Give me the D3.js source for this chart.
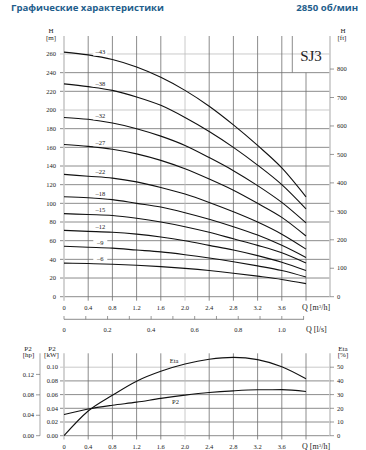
<!DOCTYPE html>
<html>
<head>
<meta charset="utf-8">
<script src="https://cdn.jsdelivr.net/npm/d3@7"></script>
<style>
  body { margin: 0; background: #fff; }
  svg text { font-family: "Liberation Serif", "Times New Roman", serif; fill: #222; }
</style>
</head>
<body>
<svg id="canvas"></svg>
<script>
const flow = [0, 0.4, 0.8, 1.2, 1.6, 2.0, 2.4, 2.8, 3.2, 3.6, 4.0]
const qTicks = [0, 0.4, 0.8, 1.2, 1.6, 2.0, 2.4, 2.8, 3.2, 3.6]
const lsTicks = [0, 0.2, 0.4, 0.6, 0.8, 1.0]
const hTicks = [0, 20, 40, 60, 80, 100, 120, 140, 160, 180, 200, 220, 240, 260]
const ftTicks = [0, 100, 200, 300, 400, 500, 600, 700, 800]

// head curves H [m] per model
const stageNames = ['–43', '–38', '–32', '–27', '–22', '–18', '–15', '–12', '–9', '–6']
const head43 = [262, 259, 254, 246, 235, 221, 204, 184, 162, 138, 107]
const head38 = [228, 225, 221, 214, 205, 192, 177, 160, 141, 120, 94]
const head32 = [192, 190, 186, 180, 172, 162, 149, 135, 119, 101, 79]
const head27 = [163, 161, 158, 153, 146, 137, 126, 114, 100, 85, 65]
const head22 = [131, 129, 127, 123, 117, 110, 101, 91, 80, 67, 51]
const head18 = [107, 106, 104, 100, 96, 90, 83, 75, 66, 55, 42]
const head15 = [89, 88, 87, 84, 80, 75, 69, 62, 55, 47, 36]
const head12 = [71, 70, 69, 67, 64, 60, 55, 50, 44, 37, 28]
const head9 = [54, 53, 52, 50, 48, 45, 41.5, 37.5, 33, 28, 21]
const head6 = [36, 35.5, 34.8, 33.7, 32.2, 30.3, 28, 25.2, 22, 18.5, 14]
const heads = [head43, head38, head32, head27, head22, head18, head15, head12, head9, head6]

// power / efficiency
const kwTicks = [0, 0.02, 0.04, 0.06, 0.08, 0.10]
const hpTicks = [0, 0.04, 0.08, 0.12]
const etaTicks = [0, 10, 20, 30, 40, 50]
const power = [0.031, 0.039, 0.0445, 0.049, 0.0545, 0.0592, 0.063, 0.0655, 0.067, 0.0672, 0.0645]
const eta = [0, 18, 29.5, 39.8, 47, 52.3, 55.8, 57.2, 55.5, 50.3, 41.5]

const width = 366
const height = 450
const gridColor = '#6e6e6e'
const lightGrid = '#bdbdbd'
const axisColor = '#c8c8c8'

let canvas = d3.select('#canvas').attr('width', width).attr('height', height)

// header
canvas.append('text').attr('x', 11).attr('y', 11)
    .style('font-family', '"Open Sans", sans-serif').style('font-weight', 'bold')
    .style('font-size', '9.6px').style('fill', '#1f5e8c')
    .text('Графические характеристики')
canvas.append('text').attr('x', 358).attr('y', 11).attr('text-anchor', 'end')
    .style('font-family', '"Open Sans", sans-serif').style('font-weight', 'bold')
    .style('font-size', '9.6px').style('fill', '#1f5e8c')
    .text('2850 об/мин')

// ---------- head chart ----------
let xScale = d3.scaleLinear().domain([0, 4.0]).range([64, 306])
let yScale = d3.scaleLinear().domain([0, 280]).range([296.7, 35.3])
let ftScale = d3.scaleLinear().domain([0, 280 / 0.3048]).range([296.7, 35.3])
let lsScale = d3.scaleLinear().domain([0, 4.0 / 3.6]).range([64, 306])

let main = canvas.append('g')

main.selectAll('.hgrid').data(hTicks).enter().append('line')
    .attr('x1', 60).attr('x2', 330)
    .attr('y1', d => yScale(d)).attr('y2', d => yScale(d))
    .attr('stroke', d => (d === 260 || d === 200) ? lightGrid : gridColor)
    .attr('stroke-width', 0.8)

main.selectAll('.vgrid').data(qTicks.concat([4.0]).filter(d => d > 0)).enter().append('line')
    .attr('x1', d => xScale(d)).attr('x2', d => xScale(d))
    .attr('y1', d => d === 4.0 ? yScale(240) : 36).attr('y2', 300.7)
    .attr('stroke', d => d === 2.0 ? lightGrid : gridColor)
    .attr('stroke-width', 0.8)

// SJ3 box
main.append('line').attr('x1', 292.3).attr('x2', 292.3).attr('y1', 36).attr('y2', yScale(240))
    .attr('stroke', gridColor).attr('stroke-width', 0.8)
main.append('text').attr('x', 311).attr('y', 60.5).attr('text-anchor', 'middle')
    .style('font-size', '15px').text('SJ3')

// axes lines
main.append('line').attr('x1', 64).attr('x2', 64).attr('y1', 36).attr('y2', 300.7)
    .attr('stroke', axisColor).attr('stroke-width', 1.6)
main.append('line').attr('x1', 330).attr('x2', 330).attr('y1', 36).attr('y2', 296.7)
    .attr('stroke', axisColor).attr('stroke-width', 1.6)

main.selectAll('.hlab').data(hTicks).enter().append('text')
    .attr('x', 56).attr('y', d => yScale(d) + 2.2).attr('text-anchor', 'end')
    .style('font-size', '6.5px').text(d => d)
main.append('text').attr('x', 51).attr('y', 33).attr('text-anchor', 'middle').style('font-size', '7px').text('H')
main.append('text').attr('x', 51).attr('y', 40).attr('text-anchor', 'middle').style('font-size', '7px').text('[m]')

main.selectAll('.ftick').data(ftTicks).enter().append('line')
    .attr('x1', 330).attr('x2', 334)
    .attr('y1', d => ftScale(d)).attr('y2', d => ftScale(d))
    .attr('stroke', gridColor).attr('stroke-width', 0.7)
main.selectAll('.flab').data(ftTicks).enter().append('text')
    .attr('x', 337).attr('y', d => ftScale(d) + 2.2)
    .style('font-size', '6.5px').text(d => d)
main.append('text').attr('x', 343).attr('y', 33).attr('text-anchor', 'middle').style('font-size', '7px').text('H')
main.append('text').attr('x', 342).attr('y', 40).attr('text-anchor', 'middle').style('font-size', '7px').text('[ft]')

main.selectAll('.qlab').data(qTicks).enter().append('text')
    .attr('x', d => xScale(d)).attr('y', 310).attr('text-anchor', 'middle')
    .style('font-size', '6.5px').text(d => d === 0 ? '0' : d.toFixed(1))
main.append('text').attr('x', 302).attr('y', 310).style('font-size', '8px')
    .html('Q [m<tspan dy="-2.5" font-size="5px">3</tspan><tspan dy="2.5">/h]</tspan>')

// l/s axis
let lsMinor = d3.range(0, 11.5).map(d => d / 10)
main.append('line').attr('x1', 64).attr('x2', 304).attr('y1', 319.3).attr('y2', 319.3)
    .attr('stroke', gridColor).attr('stroke-width', 0.8)
main.selectAll('.lstick').data(lsMinor).enter().append('line')
    .attr('x1', d => lsScale(d)).attr('x2', d => lsScale(d))
    .attr('y1', 319.3).attr('y2', 316)
    .attr('stroke', gridColor).attr('stroke-width', 0.7)
main.selectAll('.lslab').data(lsTicks).enter().append('text')
    .attr('x', d => lsScale(d)).attr('y', 331.5).attr('text-anchor', 'middle')
    .style('font-size', '6.5px').text(d => d === 0 ? '0' : d.toFixed(1))
main.append('text').attr('x', 306).attr('y', 331.5).style('font-size', '8px').text('Q [l/s]')

// head curves
let headLine = d3.line()
    .x((d, i) => xScale(flow[i]))
    .y(d => yScale(d))
    .curve(d3.curveMonotoneX)

main.selectAll('.curve').data(heads).enter().append('path')
    .attr('d', d => headLine(d))
    .attr('fill', 'none').attr('stroke', '#111').attr('stroke-width', 1.1)

let labels = main.selectAll('.clab').data(heads).enter().append('g')
    .attr('transform', d => 'translate(' + xScale(0.6) + ',' + (yScale((d[1] + d[2]) / 2) - 5) + ')')
labels.append('rect').attr('x', -7).attr('y', -3.5).attr('width', 14).attr('height', 7).attr('fill', '#fff')
labels.append('text').attr('text-anchor', 'middle').attr('y', 2.2)
    .style('font-size', '6.5px').text((d, i) => stageNames[i])

// ---------- power / efficiency chart ----------
let kwScale = d3.scaleLinear().domain([0, 0.12]).range([435.7, 353.5])
let hpScale = d3.scaleLinear().domain([0, 0.12 / 0.7457]).range([435.7, 353.5])
let etaScale = d3.scaleLinear().domain([0, 60]).range([435.7, 353.5])

let low = canvas.append('g')

low.selectAll('.hgrid').data(kwTicks).enter().append('line')
    .attr('x1', 60).attr('x2', 330)
    .attr('y1', d => kwScale(d)).attr('y2', d => kwScale(d))
    .attr('stroke', d => d === 0.10 ? lightGrid : gridColor)
    .attr('stroke-width', 0.8)
low.selectAll('.vgrid').data(qTicks.concat([4.0]).filter(d => d > 0)).enter().append('line')
    .attr('x1', d => xScale(d)).attr('x2', d => xScale(d))
    .attr('y1', 353.3).attr('y2', 439.5)
    .attr('stroke', d => d === 2.0 ? lightGrid : gridColor)
    .attr('stroke-width', 0.8)

low.append('line').attr('x1', 64).attr('x2', 64).attr('y1', 353.3).attr('y2', 439.5)
    .attr('stroke', axisColor).attr('stroke-width', 1.6)
low.append('line').attr('x1', 330).attr('x2', 330).attr('y1', 353.3).attr('y2', 435.7)
    .attr('stroke', axisColor).attr('stroke-width', 1.6)
low.append('line').attr('x1', 40).attr('x2', 40).attr('y1', 353.3).attr('y2', 435.7)
    .attr('stroke', axisColor).attr('stroke-width', 1.6)

low.selectAll('.kwlab').data(kwTicks).enter().append('text')
    .attr('x', 58).attr('y', d => kwScale(d) + 2.2).attr('text-anchor', 'end')
    .style('font-size', '6.5px').text(d => d.toFixed(2))
low.selectAll('.hptick').data(hpTicks).enter().append('line')
    .attr('x1', 36).attr('x2', 40)
    .attr('y1', d => hpScale(d)).attr('y2', d => hpScale(d))
    .attr('stroke', gridColor).attr('stroke-width', 0.7)
low.selectAll('.hplab').data(hpTicks).enter().append('text')
    .attr('x', 34).attr('y', d => hpScale(d) + 2.2).attr('text-anchor', 'end')
    .style('font-size', '6.5px').text(d => d.toFixed(2))
low.selectAll('.etick').data(etaTicks).enter().append('line')
    .attr('x1', 330).attr('x2', 334)
    .attr('y1', d => etaScale(d)).attr('y2', d => etaScale(d))
    .attr('stroke', gridColor).attr('stroke-width', 0.7)
low.selectAll('.elab').data(etaTicks).enter().append('text')
    .attr('x', 337).attr('y', d => etaScale(d) + 2.2)
    .style('font-size', '6.5px').text(d => d)

low.append('text').attr('x', 28).attr('y', 350.5).attr('text-anchor', 'middle').style('font-size', '7px').text('P2')
low.append('text').attr('x', 28.5).attr('y', 357).attr('text-anchor', 'middle').style('font-size', '7px').text('[hp]')
low.append('text').attr('x', 52).attr('y', 350.5).attr('text-anchor', 'middle').style('font-size', '7px').text('P2')
low.append('text').attr('x', 51.5).attr('y', 357).attr('text-anchor', 'middle').style('font-size', '7px').text('[kW]')
low.append('text').attr('x', 343).attr('y', 350.5).attr('text-anchor', 'middle').style('font-size', '7px').text('Eta')
low.append('text').attr('x', 343).attr('y', 357).attr('text-anchor', 'middle').style('font-size', '7px').text('[%]')

low.selectAll('.qlab').data(qTicks).enter().append('text')
    .attr('x', d => xScale(d)).attr('y', 449).attr('text-anchor', 'middle')
    .style('font-size', '6.5px').text(d => d === 0 ? '0' : d.toFixed(1))
low.append('text').attr('x', 302).attr('y', 449).style('font-size', '8px')
    .html('Q [m<tspan dy="-2.5" font-size="5px">3</tspan><tspan dy="2.5">/h]</tspan>')

let powerLine = d3.line().x((d, i) => xScale(flow[i])).y(d => kwScale(d)).curve(d3.curveMonotoneX)
let etaLine = d3.line().x((d, i) => xScale(flow[i])).y(d => etaScale(d)).curve(d3.curveMonotoneX)

low.append('path').attr('d', etaLine(eta)).attr('fill', 'none').attr('stroke', '#111').attr('stroke-width', 1.1)
low.append('path').attr('d', powerLine(power)).attr('fill', 'none').attr('stroke', '#111').attr('stroke-width', 1.1)

low.append('text').attr('x', 174).attr('y', 362.5).attr('text-anchor', 'middle').style('font-size', '6.5px').text('Eta')
low.append('text').attr('x', 175.5).attr('y', 403.5).attr('text-anchor', 'middle').style('font-size', '6.5px').text('P2')
</script>
</body>
</html>
